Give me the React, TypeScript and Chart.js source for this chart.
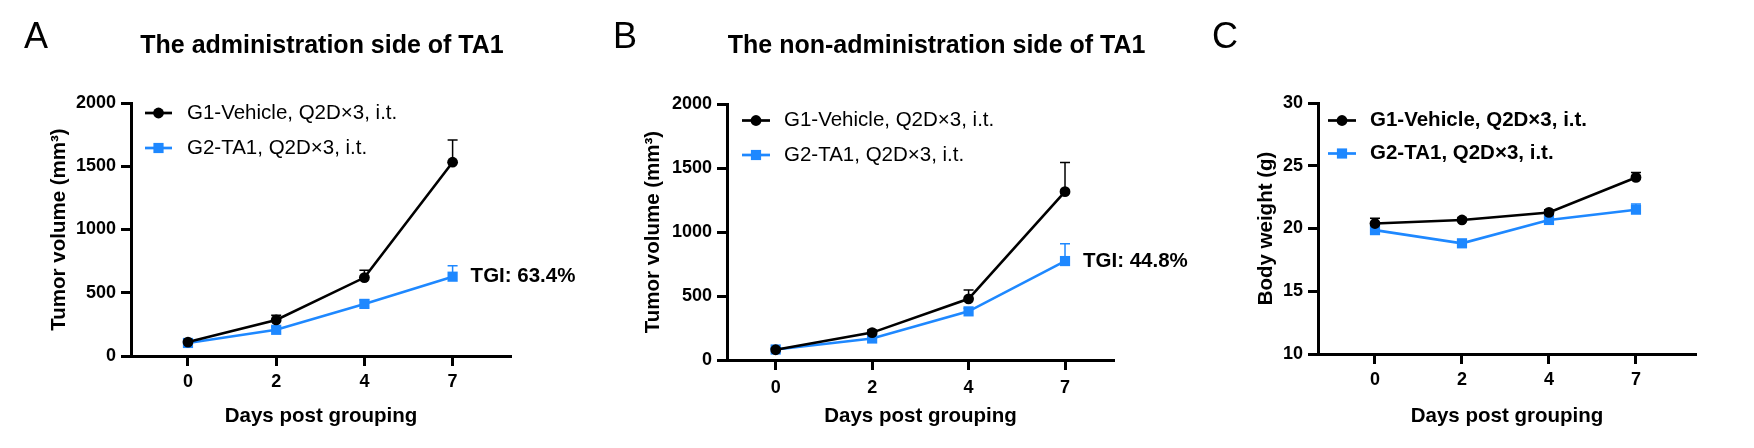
import React, { useEffect, useRef } from 'react';
import { Chart, registerables } from 'chart.js';

Chart.register(...registerables);

// ---------------- data ----------------
const days = ['0', '2', '4', '7'];
const seriesLabels = ['G1-Vehicle, Q2D×3, i.t.', 'G2-TA1, Q2D×3, i.t.'];

const aG1 = [110, 285, 620, 1532];
const aG1Err = [12, 38, 58, 175];
const aG2 = [103, 207, 412, 627];
const aG2Err = [10, 22, 30, 86];

const bG1 = [80, 214, 478, 1315];
const bG1Err = [10, 20, 69, 227];
const bG2 = [82, 168, 380, 773];
const bG2Err = [12, 15, 25, 136];

const cG1 = [20.4, 20.68, 21.28, 24.07];
const cG1Err = [0.42, 0.15, 0.22, 0.4];
const cG2 = [19.87, 18.82, 20.68, 21.5];
const cG2Err = [0.2, 0.2, 0.2, 0.45];

const tumorTicks = [0, 500, 1000, 1500, 2000];
const weightTicks = [10, 15, 20, 25, 30];

const tgiA = 'TGI: 63.4%';
const tgiB = 'TGI: 44.8%';

// ---------------- style ----------------
const FONT = '"Liberation Sans", Arial, Helvetica, sans-serif';
const BLACK = '#000000';
const BLUE = '#1E88FF';
const H = 448;

const errorBarPlugin = {
  id: 'errorBars',
  beforeDatasetsDraw(chart: any) {
    const ctx = chart.ctx;
    const xs = chart.scales.x;
    const ys = chart.scales.y;
    chart.data.datasets.forEach((ds: any) => {
      const errs = ds.errors;
      if (!errs) return;
      ctx.save();
      ctx.strokeStyle = ds.borderColor;
      ctx.lineWidth = 1.5;
      ds.data.forEach((p: any, i: number) => {
        const px = xs.getPixelForValue(p.x);
        const py = ys.getPixelForValue(p.y);
        const pt = ys.getPixelForValue(p.y + errs[i]);
        ctx.beginPath();
        ctx.moveTo(px, py);
        ctx.lineTo(px, pt);
        ctx.moveTo(px - 5, pt);
        ctx.lineTo(px + 5, pt);
        ctx.stroke();
      });
      ctx.restore();
    });
  },
};

function drawMarker(ctx: CanvasRenderingContext2D, style: string, x: number, y: number, r: number, color: string) {
  ctx.fillStyle = color;
  if (style === 'rect') {
    const s = r * Math.SQRT1_2;
    ctx.fillRect(x - s, y - s, 2 * s, 2 * s);
  } else {
    ctx.beginPath();
    ctx.arc(x, y, r, 0, Math.PI * 2);
    ctx.fill();
  }
}

const decorPlugin = {
  id: 'decor',
  afterDraw(chart: any, _args: any, opts: any) {
    const ctx: CanvasRenderingContext2D = chart.ctx;
    ctx.save();
    // panel letter
    ctx.fillStyle = BLACK;
    ctx.textBaseline = 'alphabetic';
    ctx.textAlign = 'left';
    ctx.font = `normal 36px ${FONT}`;
    ctx.fillText(opts.letter, opts.letterX, 48);
    // title
    if (opts.title) {
      ctx.textAlign = 'center';
      ctx.font = `bold 25px ${FONT}`;
      ctx.fillText(opts.title, opts.titleX, 53);
    }
    // legend
    const lg = opts.legend;
    chart.data.datasets.forEach((ds: any, i: number) => {
      const y = lg.rows[i];
      ctx.strokeStyle = ds.borderColor;
      ctx.lineWidth = 2.7;
      ctx.beginPath();
      ctx.moveTo(lg.x0, y);
      ctx.lineTo(lg.x1, y);
      ctx.stroke();
      drawMarker(ctx, ds.pointStyle, (lg.x0 + lg.x1) / 2, y, ds.pointRadius, ds.borderColor);
      ctx.fillStyle = BLACK;
      ctx.textAlign = 'left';
      ctx.textBaseline = 'middle';
      ctx.font = `${lg.bold ? 'bold' : 'normal'} 20.5px ${FONT}`;
      ctx.fillText(ds.label, lg.tx, y);
    });
    // TGI annotation next to last point of treated series
    if (opts.tgi) {
      const meta = chart.getDatasetMeta(1);
      const pt = meta.data[meta.data.length - 1];
      ctx.fillStyle = BLACK;
      ctx.textAlign = 'left';
      ctx.textBaseline = 'middle';
      ctx.font = `bold 20.5px ${FONT}`;
      ctx.fillText(opts.tgi, pt.x + 18, pt.y);
    }
    ctx.restore();
  },
};

type PanelCfg = {
  left: number;
  width: number;
  letter: string;
  letterX: number;
  title?: string;
  titleX: number;
  yTitle: string;
  yTicks: number[];
  g1: number[];
  g1Err: number[];
  g2: number[];
  g2Err: number[];
  tgi?: string;
  area: { left: number; right: number; top: number; bottom: number };
  xMin: number;
  xMax: number;
  yTitleX: number;
  xTickPad: number;
  legend: { x0: number; x1: number; tx: number; rows: number[]; bold: boolean };
};

const panels: PanelCfg[] = [
  {
    left: 0, width: 590, letter: 'A', letterX: 24,
    title: 'The administration side of TA1', titleX: 322,
    yTitle: 'Tumor volume (mm³)', yTicks: tumorTicks,
    g1: aG1, g1Err: aG1Err, g2: aG2, g2Err: aG2Err, tgi: tgiA,
    area: { left: 131, right: 511, top: 103, bottom: 356 },
    xMin: -0.646, xMax: 3.662, yTitleX: 59.5, xTickPad: 5,
    legend: { x0: 145, x1: 172, tx: 187, rows: [113, 148], bold: false },
  },
  {
    left: 590, width: 610, letter: 'B', letterX: 23,
    title: 'The non-administration side of TA1', titleX: 346.6,
    yTitle: 'Tumor volume (mm³)', yTicks: tumorTicks,
    g1: bG1, g1Err: bG1Err, g2: bG2, g2Err: bG2Err, tgi: tgiB,
    area: { left: 137, right: 524, top: 104, bottom: 360 },
    xMin: -0.505, xMax: 3.508, yTitleX: 63.7, xTickPad: 7,
    legend: { x0: 152, x1: 180, tx: 194, rows: [120.5, 155], bold: false },
  },
  {
    left: 1200, width: 554, letter: 'C', letterX: 12,
    titleX: 0,
    yTitle: 'Body weight (g)', yTicks: weightTicks,
    g1: cG1, g1Err: cG1Err, g2: cG2, g2Err: cG2Err,
    area: { left: 118, right: 496, top: 103, bottom: 354 },
    xMin: -0.655, xMax: 3.69, yTitleX: 66, xTickPad: 5,
    legend: { x0: 128, x1: 156, tx: 170, rows: [120.5, 153.5], bold: true },
  },
];

function Panel({ cfg }: { cfg: PanelCfg }) {
  const ref = useRef<HTMLCanvasElement>(null);
  useEffect(() => {
    if (!ref.current) return;
    const tickFont = { family: FONT, size: 18, weight: 'bold' as const };
    const titleFont = { family: FONT, size: 20.5, weight: 'bold' as const };
    const lh = 20.5 * 1.2;
    const yMin = cfg.yTicks[0];
    const yMax = cfg.yTicks[cfg.yTicks.length - 1];
    const chart = new Chart(ref.current, {
      type: 'line',
      data: {
        datasets: [
          {
            label: seriesLabels[0],
            data: days.map((_, i) => ({ x: i, y: cfg.g1[i] })),
            errors: cfg.g1Err,
            borderColor: BLACK,
            backgroundColor: BLACK,
            pointBackgroundColor: BLACK,
            pointBorderWidth: 0,
            pointStyle: 'circle',
            pointRadius: 5.4,
            borderWidth: 2.6,
            tension: 0,
          } as any,
          {
            label: seriesLabels[1],
            data: days.map((_, i) => ({ x: i, y: cfg.g2[i] })),
            errors: cfg.g2Err,
            borderColor: BLUE,
            backgroundColor: BLUE,
            pointBackgroundColor: BLUE,
            pointBorderWidth: 0,
            pointStyle: 'rect',
            pointRadius: 7.2,
            borderWidth: 2.6,
            tension: 0,
          } as any,
        ],
      },
      options: {
        responsive: false,
        animation: false,
        devicePixelRatio: 1,
        events: [],
        layout: {
          padding: { left: 0, top: cfg.area.top, right: cfg.width - cfg.area.right, bottom: 0 },
        },
        scales: {
          x: {
            type: 'linear',
            min: cfg.xMin,
            max: cfg.xMax,
            afterBuildTicks: (s: any) => {
              s.ticks = days.map((_, i) => ({ value: i }));
            },
            afterFit: (s: any) => {
              s.height = H - cfg.area.bottom;
            },
            ticks: {
              callback: (v: any) => days[Math.round(Number(v))],
              font: tickFont,
              color: BLACK,
              padding: cfg.xTickPad,
              maxRotation: 0,
              autoSkip: false,
            },
            grid: {
              display: true,
              drawOnChartArea: false,
              drawTicks: true,
              tickLength: 10,
              tickWidth: 3,
              tickColor: BLACK,
              color: BLACK,
            },
            border: { display: true, color: BLACK, width: 3 },
            title: {
              display: true,
              text: 'Days post grouping',
              font: titleFont,
              color: BLACK,
              padding: { top: 0, bottom: 448 - 416 - lh / 2 },
            },
          },
          y: {
            type: 'linear',
            min: yMin,
            max: yMax,
            afterBuildTicks: (s: any) => {
              s.ticks = cfg.yTicks.map((v) => ({ value: v }));
            },
            afterFit: (s: any) => {
              s.width = cfg.area.left;
            },
            ticks: {
              font: tickFont,
              color: BLACK,
              padding: 5,
              callback: (v: any) => String(v),
            },
            grid: {
              display: true,
              drawOnChartArea: false,
              drawTicks: true,
              tickLength: 10,
              tickWidth: 3,
              tickColor: BLACK,
              color: BLACK,
            },
            border: { display: true, color: BLACK, width: 3 },
            title: {
              display: true,
              text: cfg.yTitle,
              font: titleFont,
              color: BLACK,
              padding: { top: cfg.yTitleX - lh / 2, bottom: 0 },
            },
          },
        },
        plugins: {
          legend: { display: false },
          tooltip: { enabled: false },
          decor: {
            letter: cfg.letter,
            letterX: cfg.letterX,
            title: cfg.title,
            titleX: cfg.titleX,
            legend: cfg.legend,
            tgi: cfg.tgi,
          },
        } as any,
      },
      plugins: [errorBarPlugin, decorPlugin],
    });
    return () => chart.destroy();
  }, [cfg]);
  return (
    <canvas
      ref={ref}
      width={cfg.width}
      height={H}
      style={{ position: 'absolute', left: cfg.left, top: 0, width: cfg.width, height: H }}
    />
  );
}

export default function App() {
  return (
    <div
      style={{
        position: 'fixed',
        left: 0,
        top: 0,
        width: 1754,
        height: H,
        background: '#ffffff',
        overflow: 'hidden',
      }}
    >
      {panels.map((p) => (
        <Panel key={p.letter} cfg={p} />
      ))}
    </div>
  );
}
